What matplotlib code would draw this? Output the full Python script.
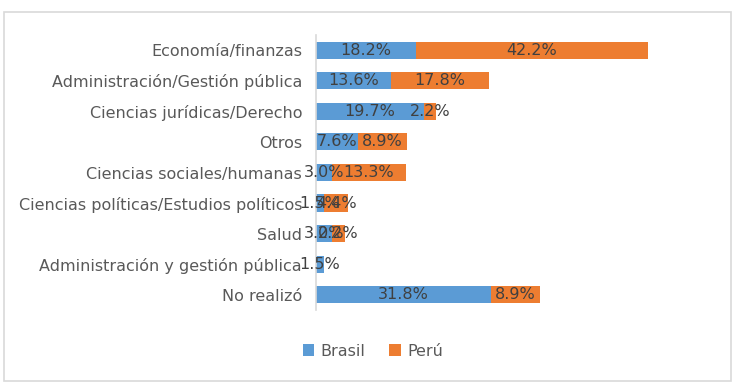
import matplotlib
matplotlib.use("Agg")
import matplotlib.pyplot as plt
from matplotlib.patches import Rectangle
from matplotlib import font_manager

categories = ["Economía/finanzas", "Administración/Gestión pública", "Ciencias jurídicas/Derecho",
              "Otros", "Ciencias sociales/humanas", "Ciencias políticas/Estudios políticos",
              "Salud", "Administración y gestión pública", "No realizó"]
brasil = [18.2, 13.6, 19.7, 7.6, 3.0, 1.5, 3.0, 1.5, 31.8]
peru = [42.2, 17.8, 2.2, 8.9, 13.3, 4.4, 2.2, 0.0, 8.9]
series_names = ["Brasil", "Perú"]

names = {f.name for f in font_manager.fontManager.ttflist}
fam = "Liberation Sans Narrow" if "Liberation Sans Narrow" in names else "DejaVu Sans"
plt.rcParams['font.family'] = [fam, 'DejaVu Sans']

W, H = 738, 386
fig = plt.figure(figsize=(W / 100, H / 100), dpi=100)
fig.patches.append(Rectangle((4 / W, 5 / H), 727 / W, 369 / H, transform=fig.transFigure,
                             fill=False, edgecolor="#D9D9D9", linewidth=1.2))
ax = fig.add_axes([316 / W, 1 - 310 / H, 404 / W, 275 / H])

c_b, c_p = "#5B9BD5", "#ED7D31"
y = list(range(len(categories)))
hb = ax.barh(y, brasil, height=0.56, color=c_b, label=series_names[0])
hp = ax.barh(y, peru, left=brasil, height=0.56, color=c_p, label=series_names[1])
ax.set_ylim(len(categories) - 0.5, -0.5)
ax.set_xlim(0, 73.5)
ax.set_yticks(y)
ax.set_yticklabels(categories, fontsize=11.5, color="#595959")
ax.tick_params(axis='y', length=0, pad=10)
ax.set_xticks([])
for s in ["top", "right", "bottom"]:
    ax.spines[s].set_visible(False)
ax.spines["left"].set_color("#D9D9D9")
ax.spines["left"].set_linewidth(1.2)

for i in y:
    ax.text(brasil[i] / 2, i, f"{brasil[i]:.1f}%", ha="center", va="center",
            fontsize=11.5, color="#404040")
    if peru[i] > 0:
        ax.text(brasil[i] + peru[i] / 2, i, f"{peru[i]:.1f}%", ha="center", va="center",
                fontsize=11.5, color="#404040")

fig.legend(handles=[hb, hp], labels=series_names, loc="center", bbox_to_anchor=(373 / W, 1 - 351 / H),
           ncol=2, frameon=False, fontsize=11.5, labelcolor="#595959",
           handlelength=0.7, handleheight=0.7, handletextpad=0.4, columnspacing=1.5)

fig.savefig("out.png", dpi=100)
